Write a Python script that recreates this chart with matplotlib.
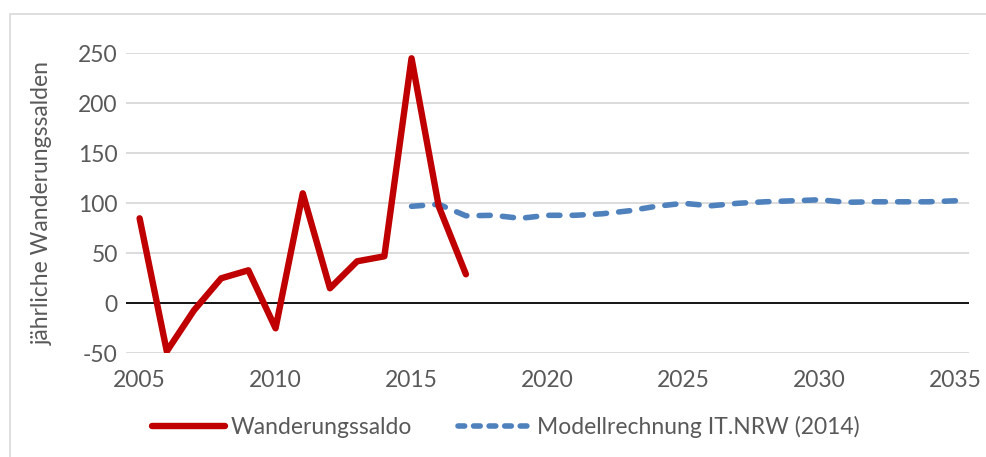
import matplotlib.pyplot as plt
from matplotlib.patches import Rectangle
from matplotlib.lines import Line2D

# Wanderungssaldo (Ist-Werte)
years_ist = list(range(2005, 2018))
saldo_ist = [85, -48, -7, 25, 33, -25, 110, 15, 42, 47, 245, 97, 29]

# Modellrechnung IT.NRW (2014)
years_mod = list(range(2015, 2036))
saldo_mod = [97, 99, 87.5, 88, 85, 88, 88, 89.5, 92.5, 97, 100,
             97.5, 100, 101.5, 102.5, 103.5, 101, 101.5, 101.5, 101.5, 102.5]

y_ticks = [-50, 0, 50, 100, 150, 200, 250]
x_ticks = [2005, 2010, 2015, 2020, 2025, 2030, 2035]

label_ist = 'Wanderungssaldo'
label_mod = 'Modellrechnung IT.NRW (2014)'
ylabel = 'jährliche Wanderungssalden'

red = '#C00000'
blue = '#4F81BD'
grey_text = '#595959'

plt.rcParams['font.family'] = ['Lato', 'DejaVu Sans']
plt.rcParams['axes.unicode_minus'] = False

fig = plt.figure(figsize=(9.86, 4.57), dpi=100)

# light outer frame like the Excel chart area
fig.patches.append(Rectangle((10/986, -0.1), 1.2, (457-14)/457 + 0.1,
                             transform=fig.transFigure, fill=False,
                             edgecolor='#d9d9d9', linewidth=1.2))

ax = fig.add_axes([126/986, 1-353.3/457, (969-126)/986, 300/457])
ax.set_xlim(2004.5, 2035.5)
ax.set_ylim(-50, 250)

for t in y_ticks:
    if t == 0:
        ax.axhline(0, color='black', linewidth=1.3, zorder=1)
    else:
        ax.axhline(t, color='#d9d9d9', linewidth=1.3, zorder=0)

ax.plot(years_ist, saldo_ist, color=red, linewidth=4.6,
        solid_capstyle='round', solid_joinstyle='round', zorder=3)
ax.plot(years_mod, saldo_mod, color=blue, linewidth=4.0,
        dashes=(2.0, 2.2), dash_capstyle='round', zorder=2)

for s in ax.spines.values():
    s.set_visible(False)

ax.set_yticks(y_ticks)
ax.set_xticks(x_ticks)
ax.tick_params(length=0, labelsize=16.5, labelcolor=grey_text, pad=6)
ax.tick_params(axis='x', pad=12)
ax.set_ylabel(ylabel, fontsize=16.5, color=grey_text, labelpad=18)

handles = [Line2D([], [], color=red, linewidth=4.6, solid_capstyle='round'),
           Line2D([], [], color=blue, linewidth=4.0, dashes=(1.2, 1.6),
                  dash_capstyle='round')]
fig.legend(handles, [label_ist, label_mod], loc='center',
           bbox_to_anchor=(0.513, 1-427/457), ncol=2, frameon=False,
           fontsize=16.5, labelcolor=grey_text, handlelength=3.2,
           handletextpad=0.25, columnspacing=2.0)

fig.savefig('out.png', dpi=100)
